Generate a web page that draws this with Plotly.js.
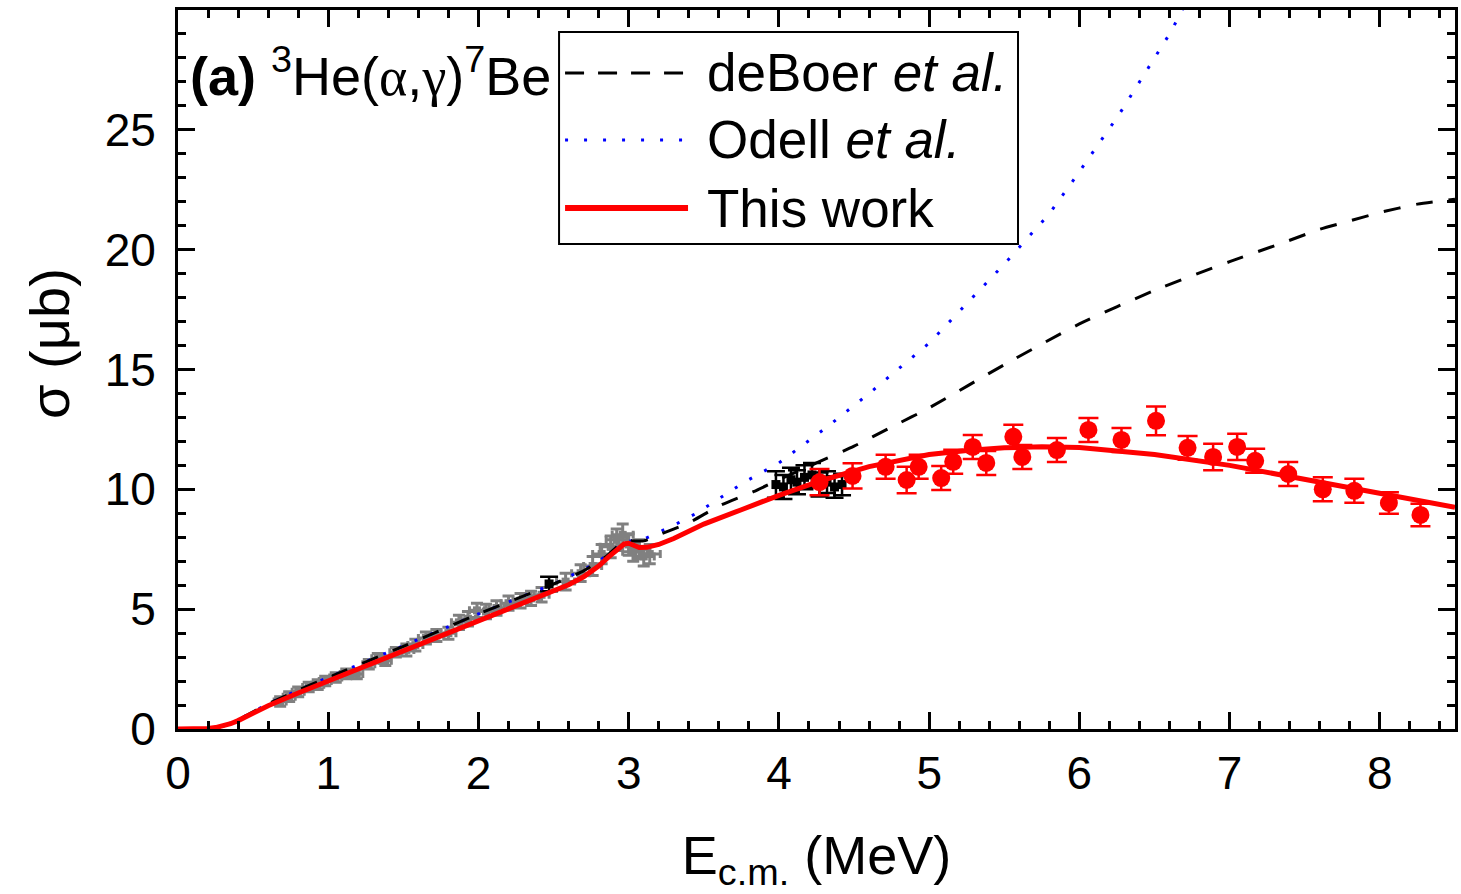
<!DOCTYPE html>
<html>
<head>
<meta charset="utf-8">
<script src="https://cdn.plot.ly/plotly-3.0.1.min.js"></script>
<style>
html,body{margin:0;padding:0;background:#fff;}
#chart{width:1461px;height:894px;}
</style>
</head>
<body>
<div id="chart"></div>
<script>
// ---- curves ----
const thisWorkX = [0, 0.1, 0.2, 0.25, 0.3, 0.35, 0.4, 0.5, 0.6, 0.8, 1.0, 1.2, 1.5, 2.0, 2.5, 2.6, 2.7, 2.8, 2.87, 2.93, 2.97, 3.0, 3.03, 3.07, 3.12, 3.2, 3.3, 3.4, 3.5, 3.75, 4.0, 4.3, 4.6, 5.0, 5.25, 5.5, 5.75, 6.0, 6.25, 6.5, 7.0, 7.5, 8.0, 8.5];
const thisWorkY = [0, 0, 0.02, 0.06, 0.13, 0.22, 0.35, 0.65, 0.97, 1.5, 2.0, 2.5, 3.25, 4.5, 5.75, 6.02, 6.35, 6.8, 7.2, 7.55, 7.72, 7.75, 7.65, 7.57, 7.58, 7.7, 7.95, 8.25, 8.55, 9.15, 9.75, 10.4, 10.95, 11.45, 11.62, 11.73, 11.78, 11.75, 11.62, 11.45, 11.0, 10.42, 9.82, 9.25];

const deBoerX = [0, 0.2, 0.3, 0.4, 0.5, 0.6, 0.8, 1.0, 1.5, 2.0, 2.5, 2.7, 2.85, 2.95, 3.0, 3.1, 3.2, 3.4, 3.6, 3.83, 4.0, 4.25, 4.5, 4.75, 5.0, 5.5, 6.0, 6.5, 7.0, 7.36, 7.6, 7.8, 8.0, 8.25, 8.5];
const deBoerY = [0, 0.02, 0.12, 0.38, 0.72, 1.05, 1.62, 2.15, 3.45, 4.8, 6.05, 6.6, 7.2, 7.75, 7.85, 7.85, 8.1, 8.6, 9.3, 9.9, 10.4, 11.1, 11.8, 12.6, 13.4, 15.2, 16.9, 18.3, 19.5, 20.3, 20.85, 21.2, 21.55, 21.9, 22.1];

const odellX = [0, 0.2, 0.3, 0.4, 0.5, 0.6, 0.8, 1.0, 1.5, 2.0, 2.5, 2.66, 2.78, 2.97, 3.11, 3.22, 3.33, 3.45, 3.77, 4.0, 4.2, 4.32, 4.6, 5.0, 5.5, 5.8, 5.96, 6.26, 6.61, 6.7];
const odellY = [0, 0.02, 0.12, 0.38, 0.72, 1.05, 1.62, 2.15, 3.45, 4.8, 6.05, 6.55, 6.9, 7.8, 7.95, 8.27, 8.6, 9.0, 10.3, 11.1, 12.06, 12.6, 14.0, 16.1, 19.4, 21.5, 22.9, 25.6, 29.1, 30.2];

// ---- data: this work (red) ----
const redX = [4.27, 4.49, 4.71, 4.85, 4.93, 5.08, 5.16, 5.29, 5.38, 5.56, 5.62, 5.85, 6.06, 6.28, 6.51, 6.72, 6.89, 7.05, 7.17, 7.39, 7.62, 7.83, 8.06, 8.27];
const redY = [10.3, 10.56, 10.94, 10.39, 10.94, 10.47, 11.15, 11.77, 11.1, 12.19, 11.35, 11.64, 12.48, 12.06, 12.86, 11.73, 11.35, 11.77, 11.19, 10.64, 10.0, 9.94, 9.43, 8.93];
const redErr = [0.55, 0.53, 0.5, 0.55, 0.5, 0.5, 0.5, 0.5, 0.5, 0.5, 0.5, 0.5, 0.5, 0.5, 0.6, 0.5, 0.55, 0.55, 0.5, 0.5, 0.5, 0.5, 0.45, 0.47];

// ---- previous data (gray) ----
const grayX = [0.68, 0.74, 0.80, 0.87, 0.93, 0.98, 1.05, 1.12, 1.19, 1.27, 1.33, 1.38, 1.45, 1.52, 1.58, 1.65, 1.72, 1.80, 1.87, 1.93, 1.99, 2.05, 2.12, 2.20, 2.28, 2.35, 2.42, 2.58, 2.68, 2.76, 2.82, 2.88, 2.92, 2.96, 3.00, 3.03, 3.07, 3.10, 3.14];
const grayY = [1.15, 1.35, 1.55, 1.75, 1.85, 2.0, 2.15, 2.3, 2.3, 2.7, 2.95, 2.85, 3.2, 3.3, 3.5, 3.8, 3.9, 4.0, 4.45, 4.6, 4.95, 4.9, 5.05, 5.25, 5.35, 5.45, 5.6, 6.15, 6.5, 6.8, 7.3, 7.6, 7.9, 8.1, 7.7, 7.4, 7.5, 7.2, 7.3];
const grayErrY = [0.2, 0.2, 0.2, 0.2, 0.2, 0.2, 0.2, 0.2, 0.2, 0.2, 0.2, 0.2, 0.2, 0.25, 0.25, 0.25, 0.25, 0.25, 0.3, 0.3, 0.3, 0.3, 0.3, 0.3, 0.3, 0.3, 0.3, 0.35, 0.35, 0.4, 0.4, 0.45, 0.45, 0.45, 0.45, 0.4, 0.4, 0.4, 0.4];
const grayErrX = [0.04, 0.04, 0.04, 0.04, 0.04, 0.04, 0.04, 0.04, 0.04, 0.04, 0.04, 0.04, 0.04, 0.05, 0.05, 0.05, 0.05, 0.05, 0.05, 0.05, 0.05, 0.05, 0.05, 0.05, 0.05, 0.05, 0.05, 0.06, 0.06, 0.06, 0.06, 0.07, 0.07, 0.07, 0.07, 0.07, 0.07, 0.07, 0.07];

// ---- previous data (black) ----
const blackX = [2.47, 3.98, 4.03, 4.08, 4.12, 4.17, 4.22, 4.27, 4.32, 4.37, 4.42];
const blackY = [6.05, 10.2, 10.1, 10.4, 10.3, 10.5, 10.6, 10.2, 10.3, 10.1, 10.2];
const blackErrY = [0.3, 0.55, 0.5, 0.5, 0.5, 0.5, 0.5, 0.5, 0.45, 0.45, 0.45];

// ---- text ----
const legendNames = ["deBoer <i>et al.</i>", "Odell <i>et al.</i>", "This work"];
const panelLabel = "<b>(a)</b> <sup>3</sup>He(<span style=\"font-family:'Liberation Serif'\">α</span>,<span style=\"font-family:'Liberation Serif'\">γ</span>)<sup>7</sup>Be";
const xTitle = "E<sub>c.m.</sub> (MeV)";
const yTitle = "σ (μb)";
const yTickVals = [0, 5, 10, 15, 20, 25];

const FONT = "'Liberation Sans', Arial, sans-serif";

const traces = [
  {x: grayX, y: grayY, type: 'scatter', mode: 'markers', showlegend: false,
   marker: {color: '#808080', size: 8, symbol: 'square'},
   error_y: {type: 'data', array: grayErrY, color: '#808080', thickness: 3, width: 6},
   error_x: {type: 'data', array: grayErrX, color: '#808080', thickness: 3, width: 4}},
  {x: blackX, y: blackY, type: 'scatter', mode: 'markers', showlegend: false,
   marker: {color: '#000000', size: 9, symbol: 'square'},
   error_y: {type: 'data', array: blackErrY, color: '#000000', thickness: 2.5, width: 9},
   error_x: {type: 'data', value: 0.04, color: '#000000', thickness: 2.5, width: 4}},
  {x: odellX, y: odellY, type: 'scatter', mode: 'lines', showlegend: false,
   line: {color: '#0000ff', width: 3, dash: '3px,14px'}},
  {x: deBoerX, y: deBoerY, type: 'scatter', mode: 'lines', showlegend: false,
   line: {color: '#000000', width: 3, dash: '17px,16px', shape: 'spline', smoothing: 0.6}},
  {x: thisWorkX, y: thisWorkY, type: 'scatter', mode: 'lines', showlegend: false,
   line: {color: '#ff0000', width: 5}},
  {x: redX, y: redY, type: 'scatter', mode: 'markers', showlegend: false,
   marker: {color: '#ff0000', size: 18},
   error_y: {type: 'data', array: redErr, color: '#ff0000', thickness: 2.5, width: 10}}
];

// custom legend (paper coords)
const lgX0 = 0.2984, lgX1 = 0.6578, lgYT = 0.9694, lgYB = 0.6745;
const rowY = [0.9124, 0.8192, 0.7246];
const sx0 = 0.3031, sx1 = 0.3994, tx = 0.4127;
const shapes = [
  {type: 'rect', xref: 'paper', yref: 'paper', x0: lgX0, x1: lgX1, y0: lgYB, y1: lgYT,
   line: {color: '#000', width: 2}, fillcolor: '#ffffff', layer: 'above'},
  {type: 'line', xref: 'paper', yref: 'paper', x0: sx0, x1: sx1, y0: rowY[0], y1: rowY[0],
   line: {color: '#000', width: 3, dash: '19px,14px'}, layer: 'above'},
  {type: 'line', xref: 'paper', yref: 'paper', x0: sx0, x1: sx1, y0: rowY[1], y1: rowY[1],
   line: {color: '#0000ff', width: 3, dash: '3px,16px'}, layer: 'above'},
  {type: 'line', xref: 'paper', yref: 'paper', x0: sx0, x1: sx1, y0: rowY[2], y1: rowY[2],
   line: {color: '#ff0000', width: 6}, layer: 'above'}
];
const annotations = legendNames.map((t, i) => ({
  xref: 'paper', yref: 'paper', x: tx, y: rowY[i], xanchor: 'left', yanchor: 'middle',
  text: t, showarrow: false, font: {family: FONT, size: 53, color: '#000'}
}));
annotations.push({
  xref: 'paper', yref: 'paper', x: 0.0078, y: 0.9124, xanchor: 'left', yanchor: 'middle',
  text: panelLabel, showarrow: false, font: {family: FONT, size: 54, color: '#000'}
});
// y-axis title placed as a rotated annotation to match the reference position
annotations.push({
  xref: 'paper', yref: 'paper', x: -0.1002, y: 0.5355, xanchor: 'center', yanchor: 'middle',
  text: yTitle, textangle: -90, showarrow: false, font: {family: FONT, size: 56, color: '#000'}
});

const layout = {
  width: 1461, height: 894,
  margin: {l: 178, r: 6, t: 10, b: 165},
  paper_bgcolor: '#fff', plot_bgcolor: '#fff',
  font: {family: FONT, color: '#000'},
  showlegend: false,
  xaxis: {
    range: [0, 8.5], dtick: 1, tick0: 0,
    ticks: 'inside', ticklen: 17, tickwidth: 3, tickcolor: '#000',
    minor: {dtick: 0.2, ticks: 'inside', ticklen: 8, tickwidth: 3, tickcolor: '#000', showgrid: false},
    showline: true, linewidth: 3, linecolor: '#000', mirror: 'allticks',
    showgrid: false, zeroline: false,
    tickfont: {family: FONT, size: 46, color: '#000'},
    ticklabelstandoff: 2,
    title: {text: xTitle, font: {family: FONT, size: 54, color: '#000'}, standoff: 38},
    automargin: false
  },
  yaxis: {
    range: [0, 30], tickvals: yTickVals,
    ticks: 'inside', ticklen: 17, tickwidth: 3, tickcolor: '#000',
    minor: {dtick: 1, ticks: 'inside', ticklen: 8, tickwidth: 3, tickcolor: '#000', showgrid: false},
    showline: true, linewidth: 3, linecolor: '#000', mirror: 'allticks',
    showgrid: false, zeroline: false,
    tickfont: {family: FONT, size: 46, color: '#000'},
    ticklabelstandoff: 10,
    automargin: false
  },
  shapes: shapes,
  annotations: annotations
};

Plotly.newPlot('chart', traces, layout, {staticPlot: true, displayModeBar: false});
</script>
</body>
</html>
